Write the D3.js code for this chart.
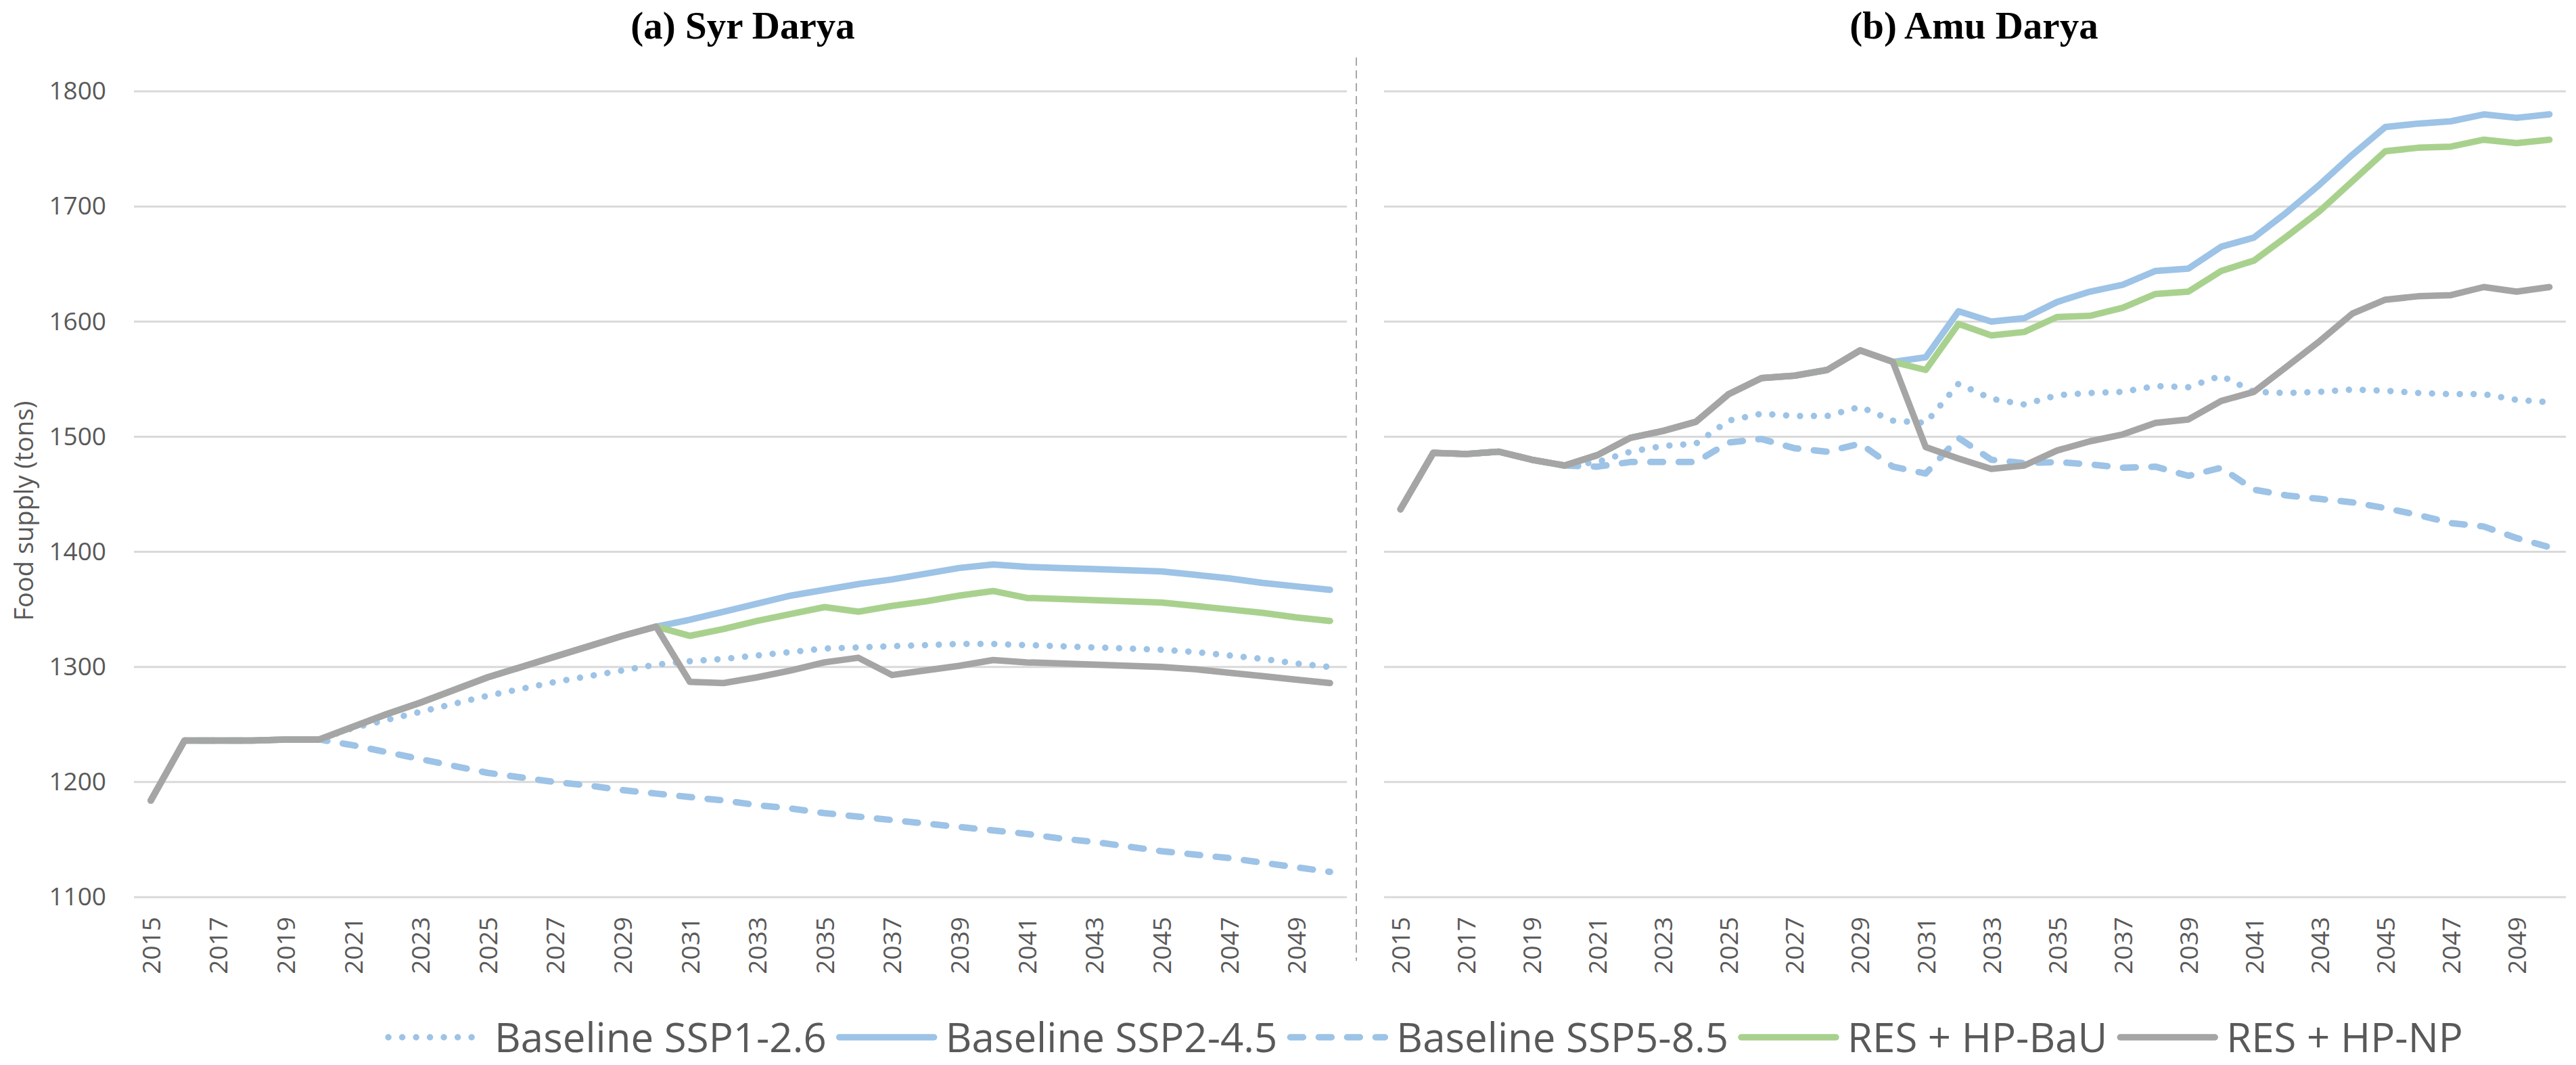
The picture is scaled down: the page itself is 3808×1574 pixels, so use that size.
<!DOCTYPE html>
<html><head><meta charset="utf-8">
<script src="https://cdn.jsdelivr.net/npm/d3@7/dist/d3.min.js"></script>
<style>body{margin:0;background:#fff}svg{display:block}</style>
</head><body>
<svg id="chart" width="3808" height="1574"></svg>
<script>
// ---------- DATA ----------
const years = [2015,2016,2017,2018,2019,2020,2021,2022,2023,2024,2025,2026,2027,2028,2029,2030,2031,2032,2033,2034,2035,2036,2037,2038,2039,2040,2041,2042,2043,2044,2045,2046,2047,2048,2049,2050];
const xTickYears = [2015,2017,2019,2021,2023,2025,2027,2029,2031,2033,2035,2037,2039,2041,2043,2045,2047,2049];
const yTicks = [1100,1200,1300,1400,1500,1600,1700,1800];
const seriesNames = ["Baseline SSP1-2.6","Baseline SSP2-4.5","Baseline SSP5-8.5","RES + HP-BaU","RES + HP-NP"];
const panelTitles = ["(a) Syr Darya","(b) Amu Darya"];
const yAxisTitle = "Food supply (tons)";

// (a) Syr Darya
const syrSSP126 = [1184,1236,1236,1236,1237,1237,1247,1254,1261,1268,1275,1281,1287,1292,1297,1302,1305,1307,1310,1313,1316,1317,1318,1319,1320,1320,1319,1318,1317,1316,1315,1313,1310,1307,1303,1300];
const syrSSP245 = [1184,1236,1236,1236,1237,1237,1248,1259,1269,1280,1291,1300,1309,1318,1327,1335,1341,1348,1355,1362,1367,1372,1376,1381,1386,1389,1387,1386,1385,1384,1383,1380,1377,1373,1370,1367];
const syrSSP585 = [1184,1236,1236,1236,1237,1237,1232,1226,1220,1214,1208,1204,1200,1197,1193,1190,1187,1184,1180,1177,1173,1170,1167,1164,1161,1158,1155,1151,1148,1144,1140,1137,1134,1130,1126,1122];
const syrBaU    = [1184,1236,1236,1236,1237,1237,1248,1259,1269,1280,1291,1300,1309,1318,1327,1335,1327,1333,1340,1346,1352,1348,1353,1357,1362,1366,1360,1359,1358,1357,1356,1353,1350,1347,1343,1340];
const syrNP     = [1184,1236,1236,1236,1237,1237,1248,1259,1269,1280,1291,1300,1309,1318,1327,1335,1287,1286,1291,1297,1304,1308,1293,1297,1301,1306,1304,1303,1302,1301,1300,1298,1295,1292,1289,1286];

// (b) Amu Darya
const amuSSP126 = [1437,1486,1485,1487,1480,1475,1478,1487,1492,1494,1514,1520,1518,1518,1526,1514,1512,1546,1533,1528,1536,1538,1539,1544,1543,1553,1539,1538,1539,1541,1540,1538,1537,1537,1532,1530];
const amuSSP245 = [1437,1486,1485,1487,1480,1475,1484,1499,1505,1513,1537,1551,1553,1558,1575,1565,1569,1609,1600,1603,1617,1626,1632,1644,1646,1665,1673,1695,1719,1745,1769,1772,1774,1780,1777,1780];
const amuSSP585 = [1437,1486,1485,1487,1480,1475,1474,1478,1478,1478,1495,1498,1490,1487,1494,1474,1468,1499,1480,1477,1478,1476,1473,1474,1466,1473,1454,1449,1446,1443,1438,1432,1425,1422,1412,1404];
const amuBaU    = [1437,1486,1485,1487,1480,1475,1484,1499,1505,1513,1537,1551,1553,1558,1575,1565,1558,1598,1588,1591,1604,1605,1612,1624,1626,1644,1653,1674,1696,1722,1748,1751,1752,1758,1755,1758];
const amuNP     = [1437,1486,1485,1487,1480,1475,1484,1499,1505,1513,1537,1551,1553,1558,1575,1565,1491,1481,1472,1475,1488,1496,1502,1512,1515,1531,1539,1561,1583,1607,1619,1622,1623,1630,1626,1630];

// ---------- STYLE ----------
const seriesStyles = [
  {color:"#9dc3e6", dash:"0.01 20.5"},
  {color:"#9dc3e6", dash:null},
  {color:"#9dc3e6", dash:"19 23"},
  {color:"#a9d18e", dash:null},
  {color:"#a5a5a5", dash:null}
];
const LW = 9.5;
const textColor = "#595959";
const FONT = "'Open Sans', sans-serif";

const svg = d3.select("#chart");
const y = d3.scaleLinear().domain([1100,1800]).range([1326,135]);

const panels = [
  {title:panelTitles[0], x0:198, x1:1991, titleX:1098, showY:true,
   data:[syrSSP126,syrSSP245,syrSSP585,syrBaU,syrNP]},
  {title:panelTitles[1], x0:2046, x1:3793, titleX:2918, showY:false,
   data:[amuSSP126,amuSSP245,amuSSP585,amuBaU,amuNP]}
];

panels.forEach(p => {
  const x = d3.scalePoint().domain(years).range([p.x0,p.x1]).padding(0.5);
  const g = svg.append("g");
  g.selectAll("line.grid").data(yTicks).join("line")
    .attr("x1",p.x0).attr("x2",p.x1)
    .attr("y1",d=>y(d)).attr("y2",d=>y(d))
    .attr("stroke","#d9d9d9").attr("stroke-width",3);
  if (p.showY) {
    const ya = g.append("g").attr("transform",`translate(${p.x0},0)`)
      .call(d3.axisLeft(y).tickValues(yTicks).tickSize(0).tickPadding(41).tickFormat(d3.format("d")));
    ya.select(".domain").remove();
    ya.selectAll("text").attr("font-family",FONT).attr("font-size",37).attr("fill",textColor);
  }
  const xa = g.append("g").attr("transform",`translate(0,${y(1100)})`)
    .call(d3.axisBottom(x).tickValues(xTickYears).tickSize(0));
  xa.select(".domain").remove();
  xa.selectAll("text")
    .attr("font-family",FONT).attr("font-size",37).attr("fill",textColor)
    .attr("text-anchor","end").attr("transform","rotate(-90)")
    .attr("x",-29).attr("y",0).attr("dy","0.36em");
  const line = d3.line().x((d,i)=>x(years[i])).y(d=>y(d));
  p.data.forEach((arr,si) => {
    const st = seriesStyles[si];
    g.append("path").datum(arr).attr("d",line)
      .attr("fill","none").attr("stroke",st.color).attr("stroke-width",LW)
      .attr("stroke-linecap","round").attr("stroke-linejoin","round")
      .attr("stroke-dasharray",st.dash);
  });
  svg.append("text").attr("x",p.titleX).attr("y",57).attr("text-anchor","middle")
    .attr("font-family","'Liberation Serif', serif").attr("font-weight","bold")
    .attr("font-size",57).attr("fill","#000").text(p.title);
});

// divider
svg.append("line").attr("x1",2005).attr("x2",2005).attr("y1",85).attr("y2",1420)
  .attr("stroke","#a6a6a6").attr("stroke-width",2).attr("stroke-dasharray","12 7");

// y axis title
svg.append("text").attr("transform","translate(34,755) rotate(-90)")
  .attr("text-anchor","middle").attr("dominant-baseline","central")
  .attr("font-family",FONT).attr("font-size",38).attr("fill",textColor).text(yAxisTitle);

// legend
const legY = 1533, sampleLen = 150, gapS = 12, gapE = 14, legFont = 60;
const leg = svg.append("g");
let cx = 0;
seriesNames.forEach((name,i) => {
  const st = seriesStyles[i];
  leg.append("line").attr("x1",cx+5).attr("x2",cx+sampleLen-5).attr("y1",legY).attr("y2",legY)
    .attr("stroke",st.color).attr("stroke-width",LW).attr("stroke-linecap","round")
    .attr("stroke-dasharray",st.dash);
  const t = leg.append("text").attr("x",cx+sampleLen+gapS).attr("y",legY+legFont*0.36)
    .attr("font-family",FONT).attr("font-size",legFont).attr("fill",textColor).text(name);
  cx += sampleLen + gapS + t.node().getComputedTextLength() + gapE;
});
const legW = cx - gapE;
leg.attr("transform",`translate(${2105 - legW/2},0)`);
</script>
</body></html>
